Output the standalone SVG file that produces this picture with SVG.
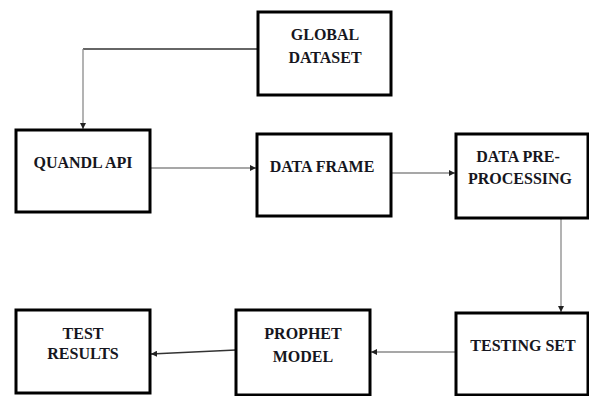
<svg xmlns="http://www.w3.org/2000/svg" width="589" height="396" viewBox="0 0 589 396">
  <style>
    .box { fill: #ffffff; stroke: #000000; stroke-width: 3; }
    .lbl { font-family: 'Liberation Serif', 'Times New Roman', serif; font-weight: 700; font-size: 16px; fill: #161620; text-anchor: middle; }
    .wire { fill: none; stroke: #8a8a8a; stroke-width: 1.3; }
    .wire-dark { fill: none; stroke: #333333; stroke-width: 1.3; }
  </style>
  <defs>
    <marker id="arrow" viewBox="0 0 6 6" refX="6" refY="3" markerWidth="6" markerHeight="6" markerUnits="userSpaceOnUse" orient="auto">
      <path d="M0,0 L6,3 L0,6 Z" fill="#222222"/>
    </marker>
  </defs>

  <rect width="589" height="396" fill="#ffffff"/>

  <g id="connectors">
    <path class="wire-dark" d="M258,49 H83"/>
    <path class="wire" d="M83,49 V129" marker-end="url(#arrow)"/>
    <path class="wire" d="M150,168 H256" marker-end="url(#arrow)"/>
    <path class="wire" d="M391,173 H455" marker-end="url(#arrow)"/>
    <path class="wire" d="M561,218 V312" marker-end="url(#arrow)"/>
    <path class="wire" d="M456,352 H371" marker-end="url(#arrow)"/>
    <path class="wire-dark" d="M236,350 L151,354" marker-end="url(#arrow)"/>
  </g>

  <g id="global-dataset">
    <rect class="box" x="258" y="12" width="133" height="83"/>
    <text class="lbl" x="325" y="40">GLOBAL</text>
    <text class="lbl" x="325" y="63">DATASET</text>
  </g>

  <g id="quandl-api">
    <rect class="box" x="16" y="130" width="134" height="82"/>
    <text class="lbl" x="83" y="168">QUANDL API</text>
  </g>

  <g id="data-frame">
    <rect class="box" x="257" y="134" width="134" height="82"/>
    <text class="lbl" x="322" y="172">DATA FRAME</text>
  </g>

  <g id="data-preprocessing">
    <rect class="box" x="456" y="134" width="132" height="84"/>
    <text class="lbl" x="518" y="162">DATA PRE-</text>
    <text class="lbl" x="520" y="184">PROCESSING</text>
  </g>

  <g id="testing-set">
    <rect class="box" x="456" y="313" width="132" height="82"/>
    <text class="lbl" x="523" y="351">TESTING SET</text>
  </g>

  <g id="prophet-model">
    <rect class="box" x="236" y="310" width="134" height="85"/>
    <text class="lbl" x="303" y="339">PROPHET</text>
    <text class="lbl" x="303" y="362">MODEL</text>
  </g>

  <g id="test-results">
    <rect class="box" x="16" y="310" width="134" height="83"/>
    <text class="lbl" x="83" y="339">TEST</text>
    <text class="lbl" x="83" y="359">RESULTS</text>
  </g>
</svg>
